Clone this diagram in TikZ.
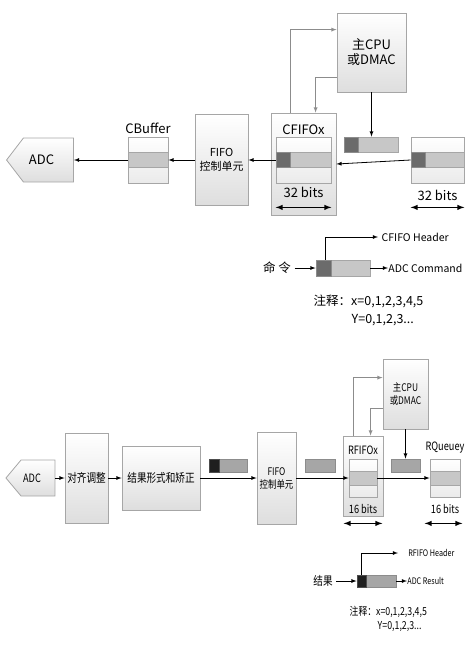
\documentclass[tikz,border=0pt]{standalone}
\usepackage{fontspec}
\setmainfont{Noto Sans CJK SC}
\newfontfamily\narrowfont[FakeStretch=0.8]{Noto Sans CJK SC}
\usetikzlibrary{shapes.symbols}

\tikzset{
  box/.style={draw=black!35, top color=white, bottom color=black!13, align=center, inner sep=0pt},
  buf/.style={draw=black!35, top color=white, bottom color=black!8, inner sep=0pt},
  row/.style={draw=black!35, fill=black!22, inner sep=0pt},
  cell/.style={draw=black!45, fill=black!58, inner sep=0pt, anchor=west},
  blk/.style={draw=black!70, fill=black!88, inner sep=0pt, anchor=west},
  pkt/.style={draw=black!35, fill=black!22, inner sep=0pt},
  pktb/.style={draw=black!45, fill=black!35, inner sep=0pt},
  fb/.style={draw=black!45, ->},
  bits/.style={<->, line width=1.4pt},
  bigtxt/.style={font=\fontsize{13}{15}\selectfont},
  boxtxt/.style={font=\fontsize{11}{14}\selectfont},
  smalltxt/.style={font=\fontsize{10.5}{12}\selectfont},
  notetxt/.style={font=\fontsize{12.5}{15}\selectfont},
  nbig/.style={font=\narrowfont\fontsize{11.5}{14}\selectfont},
  nbox/.style={font=\narrowfont\fontsize{12}{15}\selectfont},
  nmid/.style={font=\narrowfont\fontsize{10.5}{13}\selectfont},
  nsmall/.style={font=\narrowfont\fontsize{9}{11}\selectfont},
  nnote/.style={font=\narrowfont\fontsize{11}{13}\selectfont}
}

\begin{document}
\begin{tikzpicture}[x=1pt, y=-1pt, thick, >=latex]
\useasboundingbox (0,0) rectangle (470,646);

% upper part: command path
\node[box, signal, signal to=west, signal pointer angle=105, minimum width=67, minimum height=44,
  label={[bigtxt, xshift=-7pt]center:ADC}](ADC) at (48.5,160) {};
\node[buf, minimum width=40, minimum height=46](CB) at (148,160) {};
\node[row, minimum width=40, minimum height=15](CBm) at (CB) {};
\node[bigtxt](CBl) at (148,128) {CBuffer};
\node[box, minimum width=53, minimum height=91, boxtxt](F1) at (221.5,160) {FIFO\\控制单元};
\node[box, minimum width=65, minimum height=102](CFo) at (303.5,164) {};
\node[bigtxt](CFl) at (303.5,130) {CFIFOx};
\node[buf, minimum width=55, minimum height=46](CFi) at (303.5,160) {};
\node[row, minimum width=55, minimum height=15](CFm) at (CFi) {};
\node[cell, minimum width=14, minimum height=15] at (CFm.west) {};
\node[bigtxt](CFb) at (303.5,192) {32 bits};
\node[box, minimum width=69, minimum height=79, bigtxt](CPU) at (371.5,52.5) {主CPU\\或DMAC};
\node[pkt, minimum width=54, minimum height=15](PK) at (371.5,144.5) {};
\node[cell, minimum width=14, minimum height=15] at (PK.west) {};
\node[buf, minimum width=53, minimum height=46](RB) at (437.5,160) {};
\node[row, minimum width=53, minimum height=15](RBm) at (RB) {};
\node[cell, minimum width=14, minimum height=15] at (RBm.west) {};
\node[bigtxt](RBb) at (437.5,195) {32 bits};

\path [->] (CB.west) edge (ADC.east);
\path [->] (F1.west) edge (CB.east);
\path [->] (CFm.west) edge (F1.east);
\path [->] (RB.west) edge (CFo.east);
\path [->] (CPU) edge (PK);
\draw [fb] ([xshift=20pt]CFo.north west) |- ([yshift=-17pt]CPU.north west);
\draw [fb] ([yshift=15pt]CPU.south west) -| ([xshift=45pt]CFo.north west);
\draw [bits] ([yshift=-24pt]CFi.south west) -- ([yshift=-24pt]CFi.south east);
\draw [bits] ([yshift=-24pt]RB.south west) -- ([yshift=-24pt]RB.south east);

% upper legend
\node[notetxt](CMD) at (277,268) {命 令};
\node[pkt, minimum width=54, minimum height=16](PC) at (343,268) {};
\node[cell, minimum width=15, minimum height=16] at (PC.west) {};
\node[smalltxt, anchor=west](CH) at (378,237) {CFIFO Header};
\node[smalltxt, anchor=west, inner xsep=0pt](AC) at (388,268) {ADC Command};
\path [->] (CMD) edge (PC);
\draw [->] ([xshift=10pt]PC.north west) |- (CH.west);
\path [->] (PC) edge (AC);
\node[notetxt, anchor=west](N1) at (310,301) {注释：x=0,1,2,3,4,5};
\node[notetxt, anchor=west](N2) at (348,320) {Y=0,1,2,3...};

% lower part: result path
\node[box, signal, signal to=west, signal pointer angle=100, minimum width=49, minimum height=36,
  label={[nbig, xshift=-6pt]center:ADC}](ADC2) at (38,478) {};
\node[box, minimum width=43, minimum height=90, nbox](AL) at (86.5,478) {对齐调整};
\node[box, minimum width=78, minimum height=64, nbox](FM) at (161,478) {结果形式和矫正};
\node[pktb, minimum width=38, minimum height=13](P1) at (228,465.5) {};
\node[blk, minimum width=10, minimum height=13] at (P1.west) {};
\node[box, minimum width=39, minimum height=92, nmid](F2) at (276.5,478) {FIFO\\控制单元};
\node[pktb, minimum width=30, minimum height=13](P2) at (320,465.5) {};
\node[box, minimum width=40, minimum height=80](RFo) at (363,476) {};
\node[nbig](RFl) at (363,450) {RFIFOx};
\node[buf, minimum width=28, minimum height=38](RFi) at (363,478) {};
\node[row, minimum width=28, minimum height=14](RFm) at (RFi) {};
\node[nbig](RFb) at (363,509) {16 bits};
\node[box, minimum width=45, minimum height=70, nmid](CPU2) at (405.5,394) {主CPU\\或DMAC};
\node[pktb, minimum width=29, minimum height=13](P3) at (405.5,465.5) {};
\node[buf, minimum width=30, minimum height=38](RQ) at (445,478) {};
\node[row, minimum width=30, minimum height=14](RQm) at (RQ) {};
\node[nbig](RQl) at (445,448) {RQueuey};
\node[nbig](RQb) at (445,509) {16 bits};

\path [->] (ADC2.east) edge (AL.west);
\path [->] (AL.east) edge (FM.west);
\path [->] (FM.east) edge (F2.west);
\path [->] (F2.east) edge (RFi.west);
\path [->] (RFi.east) edge (RQ.west);
\path [->] (CPU2) edge (P3);
\draw [fb] ([xshift=11pt]RFo.north west) |- ([yshift=-19pt]CPU2.north west);
\draw [fb] ([yshift=21pt]CPU2.south west) -| ([xshift=28pt]RFo.north west);
\draw [bits] ([xshift=1pt,yshift=-7pt]RFo.south west) -- ([xshift=-1pt,yshift=-7pt]RFo.south east);
\draw [bits] ([xshift=-5pt,yshift=-26pt]RQ.south west) -- ([xshift=2pt,yshift=-26pt]RQ.south east);

% lower legend
\node[nbox](RES) at (323,581) {结果};
\node[pktb, minimum width=39, minimum height=12](PR) at (376.5,581) {};
\node[blk, minimum width=9, minimum height=12] at (PR.west) {};
\node[nsmall, anchor=west, inner xsep=10pt](RH) at (398,553) {RFIFO Header};
\node[nsmall, anchor=west, inner xsep=0pt](AR) at (407,581) {ADC Result};
\path [->] (RES) edge (PR);
\draw [->] ([xshift=5pt]PR.north west) |- (RH.west);
\path [->] (PR) edge (AR);
\node[nnote, anchor=west](N3) at (346,612) {注释：x=0,1,2,3,4,5};
\node[nnote, anchor=west](N4) at (374,627) {Y=0,1,2,3...};
\end{tikzpicture}
\end{document}
